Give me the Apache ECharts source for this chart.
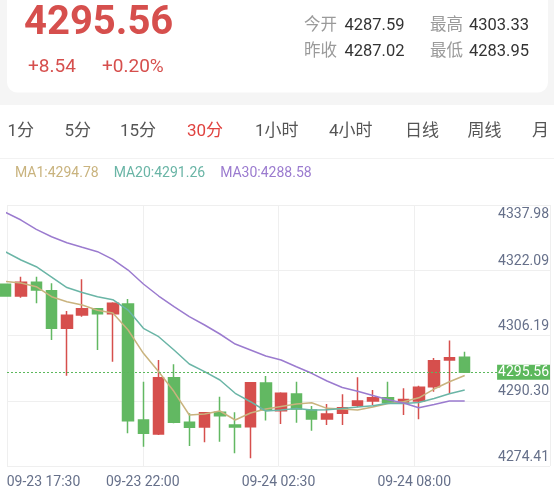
<!DOCTYPE html>
<html><head><meta charset="utf-8">
<script src="https://cdn.jsdelivr.net/npm/echarts@6/dist/echarts.min.js"></script>
<style>html,body{margin:0;padding:0;background:#fff;}#c{width:554px;height:492px;}</style>
</head><body><div id="c"></div>
<script>
// ---- header data ----
const headerPrice = '4295.56';
const headerChange = ['+8.54', '+0.20%'];
const statLabels = ['今开', '最高', '昨收', '最低'];
const statValues = ['4287.59', '4303.33', '4287.02', '4283.95'];
const tabs = ['1分', '5分', '15分', '30分', '1小时', '4小时', '日线', '周线', '月线'];
const activeTab = '30分';

// ---- candle data (30 min) ----
const opens  = [4316.99,4314.14,4317.48,4315.43,4306.27,4309.51,4311.05,4309.83,4312.19,4283.95,4280.54,4294.25,4283.38,4282.24,4285.82,4282.73,4282.31,4292.95,4286.21,4290.28,4286.38,4284.19,4285.58,4287.52,4288.57,4289.38,4288.33,4288.57,4292.05,4298.56,4299.21];
const closes = [4314.14,4317.48,4315.60,4306.27,4309.44,4311.05,4309.83,4312.36,4283.77,4280.71,4294.25,4283.38,4282.17,4285.72,4284.99,4282.24,4293.03,4286.38,4290.45,4286.62,4284.19,4285.41,4286.94,4288.57,4289.38,4288.16,4288.94,4291.91,4298.38,4299.12,4295.56];
const lows   = [4313.95,4313.72,4312.36,4303.43,4294.73,4309.10,4300.99,4298.14,4280.71,4277.44,4280.29,4283.14,4277.61,4278.51,4278.66,4275.84,4274.62,4283.82,4282.97,4283.29,4281.34,4282.73,4282.73,4287.04,4287.60,4288.01,4285.16,4284.12,4290.84,4290.45,4295.40];
const highs  = [4317.10,4318.84,4318.84,4317.23,4310.49,4318.21,4311.10,4312.61,4313.41,4293.27,4298.56,4297.51,4285.58,4285.80,4289.62,4285.82,4293.15,4294.66,4290.69,4293.27,4287.35,4287.84,4290.20,4294.34,4291.25,4293.27,4291.66,4292.30,4299.04,4303.33,4300.58];

// ---- moving averages ----
const ma1  = [4317.67,4317.30,4316.40,4313.97,4312.75,4311.95,4310.66,4310.00,4305.86,4300.19,4295.71,4290.88,4285.16,4285.41,4286.14,4283.95,4285.65,4286.62,4287.23,4287.84,4288.16,4286.79,4286.62,4286.38,4287.11,4287.96,4288.40,4289.35,4291.49,4293.27,4294.78];
const ma20 = [4324.85,4322.90,4321.27,4318.76,4316.21,4314.99,4313.97,4313.24,4310.73,4306.27,4304.23,4300.99,4297.58,4295.71,4293.69,4290.45,4288.40,4286.14,4286.38,4286.75,4286.38,4286.43,4286.75,4287.11,4287.43,4288.01,4287.96,4288.21,4289.18,4290.35,4291.26];
const ma30 = [4334.47,4332.64,4330.38,4328.58,4327.12,4326.00,4324.93,4323.07,4320.47,4317.06,4314.14,4311.53,4309.10,4307.08,4304.89,4302.45,4300.99,4299.53,4298.56,4296.92,4295.32,4293.44,4291.86,4290.96,4289.91,4288.89,4288.08,4286.92,4287.72,4288.57,4288.58];
const maNames = ['MA1', 'MA20', 'MA30'];

// ---- axis tick labels ----
const yTickLabels = ['4274.41', '4290.30', '4306.19', '4322.09', '4337.98'];
const xTickLabels = ['09-23 17:30', '09-23 22:00', '09-24 02:30', '09-24 08:00'];
const lastPrice = 4295.56;

// ---- styles ----
const FONT = 'Roboto, "Noto Sans CJK SC", sans-serif';
const RED = '#d64f4d', GREEN = '#62b862';
const maColors = ['#c9b37e', '#6ab5a6', '#9b7bcf'];
const axisTextColor = '#66708a';
const gridColor = '#efefef';

const candleData = opens.map((o, i) => [i, o, closes[i], lows[i], highs[i]]);
const maSeries = [ma1, ma20, ma30];

// header graphics
const g = [];
g.push({type: 'rect', shape: {x: 0, y: 0, width: 554, height: 105}, style: {fill: '#f5f5f5'}, silent: true});
g.push({type: 'rect', shape: {x: 7, y: -12, width: 541, height: 104.5, r: 10}, style: {fill: '#fff'}, silent: true});
g.push({type: 'text', x: 24, y: 24, style: {text: headerPrice, fontSize: 40, fontWeight: 'bold', fontFamily: FONT, fill: RED, verticalAlign: 'middle'}});
g.push({type: 'text', x: 28, y: 67, style: {text: headerChange[0], fontSize: 19, fontFamily: FONT, fill: RED, verticalAlign: 'middle'}});
g.push({type: 'text', x: 102, y: 67, style: {text: headerChange[1], fontSize: 19, fontFamily: FONT, fill: RED, verticalAlign: 'middle'}});
const statX = [[304, 344.5], [430, 469]];
const statY = [25.5, 51.5];
statLabels.forEach((lab, i) => {
  const col = i % 2, row = Math.floor(i / 2);
  g.push({type: 'text', x: statX[col][0], y: statY[row], style: {text: lab, fontSize: 16.5, fontFamily: FONT, fill: '#9a9a9a', verticalAlign: 'middle'}});
  g.push({type: 'text', x: statX[col][1], y: statY[row], style: {text: statValues[i], fontSize: 16.5, fontFamily: FONT, fill: '#333', verticalAlign: 'middle'}});
});
const tabX = [7.5, 64.5, 120, 187, 255, 329, 405, 467.5, 532];
tabs.forEach((t, i) => {
  g.push({type: 'text', x: tabX[i], y: 132, style: {text: t, fontSize: 17, fontFamily: FONT, fill: t === activeTab ? '#e0423f' : '#555', verticalAlign: 'middle'}});
});
g.push({type: 'rect', shape: {x: 549, y: 112, width: 5, height: 40}, style: {fill: '#fff'}, silent: true});
g.push({type: 'rect', shape: {x: 0, y: 158, width: 554, height: 1}, style: {fill: '#f2f2f2'}, silent: true});

const chart = echarts.init(document.getElementById('c'), null, {renderer: 'canvas'});
chart.setOption({
  animation: false,
  backgroundColor: '#fff',
  graphic: g,
  legend: {
    left: 5, top: 162, itemWidth: 0, itemHeight: 0, itemGap: 10, icon: 'rect', selectedMode: false,
    data: maNames.map((n, i) => ({name: n, textStyle: {color: maColors[i]}})),
    formatter: name => name + ':' + maSeries[maNames.indexOf(name)][maSeries[0].length - 1].toFixed(2),
    textStyle: {fontSize: 14, fontFamily: FONT}
  },
  grid: {left: 7, right: 4, top: 205, bottom: 26, containLabel: false},
  xAxis: [
    {type: 'value', min: 0.085, max: 35.575, show: false},
    {type: 'value', min: 0, max: 4, interval: 1, position: 'bottom',
      axisLine: {show: false}, axisTick: {show: false},
      splitLine: {show: true, lineStyle: {color: gridColor, width: 1}},
      axisLabel: {
        margin: 10,
        formatter: v => {
          const s = xTickLabels[v] || '';
          if (!s) return '';
          return v === 0 ? '{f|' + s + '}' : '{n|' + s + '}';
        },
        rich: {
          f: {fontSize: 14, fontFamily: FONT, color: axisTextColor, padding: [0, 0, 0, 73]},
          n: {fontSize: 14, fontFamily: FONT, color: axisTextColor}
        }
      }
    }
  ],
  yAxis: [
    {type: 'value', min: 4272.75, max: 4336.30, show: false, scale: true},
    {type: 'value', min: 0, max: 4, interval: 1, position: 'right',
      axisLine: {show: false}, axisTick: {show: false},
      splitLine: {show: true, lineStyle: {color: gridColor, width: 1}},
      axisLabel: {
        inside: true, margin: 1, verticalAlign: 'middle',
        formatter: v => {
          const s = yTickLabels[v] || '';
          return v === 4 ? '{t|' + s + '}' : '{b|' + s + '}';
        },
        rich: {
          t: {fontSize: 14, fontFamily: FONT, color: axisTextColor, padding: [18, 0, 0, 0]},
          b: {fontSize: 14, fontFamily: FONT, color: axisTextColor, padding: [0, 0, 18, 0]}
        }
      }
    }
  ],
  series: [
    {
      name: 'K', type: 'candlestick', xAxisIndex: 0, yAxisIndex: 0,
      data: candleData,
      encode: {x: 0, y: [1, 2, 3, 4]},
      barWidth: 11,
      clip: true,
      itemStyle: {color: RED, color0: GREEN, borderColor: RED, borderColor0: GREEN, borderWidth: 1.5},
      markLine: {
        silent: true, symbol: ['none', 'none'],
        data: [{yAxis: lastPrice}],
        lineStyle: {type: [2, 2], color: '#5cb85c', width: 1.2},
        label: {
          show: true, position: 'insideEnd', distance: 0,
          formatter: () => lastPrice.toFixed(2),
          backgroundColor: '#5cb85c', color: '#fff', fontSize: 14, fontFamily: FONT,
          padding: [1, 1, 0, 1]
        }
      }
    }
  ].concat(maSeries.map((arr, k) => ({
    name: maNames[k], type: 'line', xAxisIndex: 0, yAxisIndex: 0,
    data: arr.map((v, i) => [i, v]),
    showSymbol: false, symbol: 'none', clip: true,
    lineStyle: {color: maColors[k], width: 1.5},
    itemStyle: {color: maColors[k]},
    z: 3
  })))
});
</script>
</body></html>
